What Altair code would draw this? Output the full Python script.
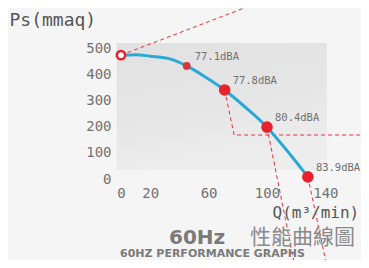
import altair as alt
import pandas as pd

# Fan curve (Q in m3/min, Ps in mmaq)
curve_q = [0, 10, 20, 34, 45, 58, 71, 85, 100, 114.5, 128]
curve_ps = [473, 475, 469, 458, 432, 389, 340, 275, 198, 103, 8]

# Marked operating points with noise levels
pt_q = [45, 71, 100, 128]
pt_ps = [432, 340, 198, 8]
pt_label = ["77.1dBA", "77.8dBA", "80.4dBA", "83.9dBA"]
pt_kind = ["small", "big", "big", "big"]

# Shut-off point (open ring)
open_q = [0]
open_ps = [473]

# Red dashed leader lines (data units)
lead_id = [1, 1, 2, 2, 2, 3, 3, 4, 4]
lead_q = [0, 170, 71, 77.5, 170, 100, 119.3, 128, 141.3]
lead_ps = [473, 836, 340, 168, 168, 198, -340, 8, -340]

# Grey backdrop panel (data units)
panel_q = [-3, 141]
panel_ps = [34, 519]

x_ticks = [0, 20, 60, 100, 140]
y_ticks = [0, 100, 200, 300, 400, 500]

curve_df = pd.DataFrame({"Q": curve_q, "Ps": curve_ps, "i": list(range(len(curve_q)))})
pts_df = pd.DataFrame({"Q": pt_q, "Ps": pt_ps, "label": pt_label, "kind": pt_kind})
open_df = pd.DataFrame({"Q": open_q, "Ps": open_ps})
lead_df = pd.DataFrame({"id": lead_id, "Q": lead_q, "Ps": lead_ps, "i": list(range(len(lead_id)))})
panel_df = pd.DataFrame({"Q": [panel_q[0]], "q2": [panel_q[1]], "Ps": [panel_ps[0]], "p2": [panel_ps[1]]})

MONO = "DejaVu Sans Mono"
GREY = "#727272"
RED = "#e8222c"

xs = alt.Scale(domain=[0, 150], nice=False, zero=False)
ys = alt.Scale(domain=[0, 550], nice=False, zero=False)

x_axis = alt.Axis(values=x_ticks, title="Q(m³/min)", grid=False, domain=False, ticks=False, tickSize=0,
                  labelPadding=14, labelBaseline="middle", labelFont=MONO, labelFontSize=14,
                  labelColor=GREY, titleFont=MONO, titleFontSize=16, titleFontWeight="normal",
                  titleColor="#555555", titleX=151, titleY=33, titleAlign="left",
                  titleBaseline="middle", labelFlush=False, labelOverlap=False)
y_axis = alt.Axis(values=y_ticks, title="Ps(mmaq)", grid=False, domain=False, ticks=False, tickSize=0,
                  labelPadding=10, labelFont=MONO, labelFontSize=14, labelColor=GREY,
                  titleFont=MONO, titleFontSize=18, titleFontWeight="normal", titleColor="#555555",
                  titleAngle=0, titleX=-112, titleY=-15, titleAlign="left", titleBaseline="middle",
                  labelFlush=False, labelOverlap=False)


def X():
    return alt.X("Q:Q", scale=xs, axis=x_axis)


def Y():
    return alt.Y("Ps:Q", scale=ys, axis=y_axis)


panel = alt.Chart(panel_df).mark_rect(
    color=alt.Gradient(gradient="linear", x1=0, y1=0, x2=0.3, y2=1,
                       stops=[alt.GradientStop(color="#e1e1e1", offset=0),
                              alt.GradientStop(color="#e6e6e6", offset=0.6),
                              alt.GradientStop(color="#ededed", offset=1)])
).encode(x=X(), x2="q2", y=Y(), y2="p2")

leads = alt.Chart(lead_df).mark_line(color="#e8303a", strokeWidth=1, strokeDash=[4, 3], clip=False).encode(
    x=X(), y=Y(), detail="id:N", order="i:Q"
)

line = alt.Chart(curve_df).mark_line(color="#2aa9d6", strokeWidth=3, interpolate="monotone").encode(
    x=X(), y=Y(), order="i:Q"
)

points = alt.Chart(pts_df).mark_circle(opacity=1).encode(
    x=X(), y=Y(),
    size=alt.Size("kind:N", scale=alt.Scale(domain=["small", "big"], range=[60, 135]), legend=None),
    color=alt.Color("kind:N", scale=alt.Scale(domain=["small", "big"], range=["#d9323a", RED]), legend=None),
)

ring = alt.Chart(open_df).mark_point(shape="circle", filled=False, color=RED, strokeWidth=2.5,
                                     size=70, opacity=1, fill="#ffffff", fillOpacity=1).encode(
    x=X(), y=Y()
)

labels = alt.Chart(pts_df).mark_text(align="left", baseline="middle", dx=8, dy=-9,
                                     font=MONO, fontSize=10.5, color="#707070").encode(
    x=X(), y=Y(), text="label:N"
)

title_df = pd.DataFrame({"a": ["60Hz"], "b": ["性能曲線圖"], "c": ["60HZ PERFORMANCE GRAPHS"]})
t1 = alt.Chart(title_df).mark_text(align="left", baseline="middle", font="DejaVu Sans", fontWeight="bold",
                                   fontSize=20, color="#7a7a7a").encode(
    x=alt.value(48), y=alt.value(203), text="a:N")
t2 = alt.Chart(title_df).mark_text(align="left", baseline="middle", font="Noto Sans CJK TC",
                                   fontSize=21, color="#8a8a8a").encode(
    x=alt.value(129), y=alt.value(203), text="b:N")
t3 = alt.Chart(title_df).mark_text(align="left", baseline="middle", font="DejaVu Sans", fontWeight="bold",
                                   fontSize=11, color="#7a7a7a").encode(
    x=alt.value(-1), y=alt.value(219), text="c:N")

chart = alt.layer(panel, leads, line, points, ring, labels, t1, t2, t3).properties(
    width=219, height=144,
    autosize=alt.AutoSizeParams(type="none"),
    padding={"left": 113, "top": 27, "right": 21, "bottom": 81},
    background="#f5f5f5",
).configure_view(stroke=None)

chart.save("out.html", embed_options={"renderer": "svg", "actions": False})
